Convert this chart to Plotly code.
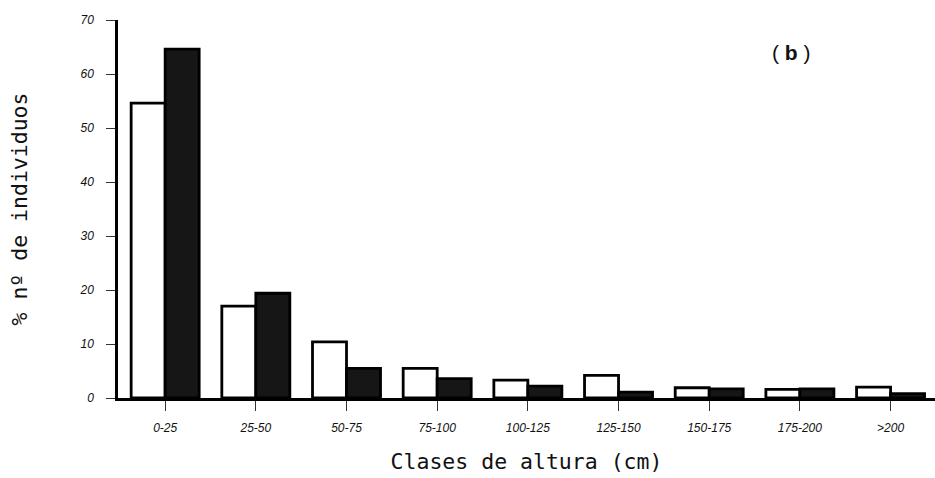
import plotly.graph_objects as go

categories = ["0-25", "25-50", "50-75", "75-100", "100-125", "125-150", "150-175", "175-200", ">200"]
serie_blanca = [54.6, 17.0, 10.4, 5.5, 3.3, 4.2, 1.9, 1.6, 2.0]
serie_negra = [64.6, 19.4, 5.5, 3.6, 2.2, 1.1, 1.7, 1.7, 0.8]
y_ticks = [0, 10, 20, 30, 40, 50, 60, 70]

fig = go.Figure()
fig.add_trace(go.Bar(x=categories, y=serie_blanca, name="A",
                     marker=dict(color="white", line=dict(color="black", width=2.8))))
fig.add_trace(go.Bar(x=categories, y=serie_negra, name="B",
                     marker=dict(color="#161616", line=dict(color="black", width=2.8))))

tickfont = dict(family="Liberation Sans, Arial", size=12, style="italic", color="#111")
monofont = dict(family="DejaVu Sans Mono, monospace", size=21.5, color="#111")

fig.update_layout(
    width=935, height=478,
    margin=dict(l=118, r=0, t=20, b=80),
    paper_bgcolor="white", plot_bgcolor="white",
    barmode="group", bargap=0.25, bargroupgap=0,
    showlegend=False,
    xaxis=dict(
        range=[-0.52, 8.49], showgrid=False, zeroline=False,
        showline=True, linecolor="black", linewidth=2.5,
        ticks="outside", ticklen=10, tickwidth=1, tickcolor="#333",
        tickfont=tickfont, ticklabelstandoff=7,
        title=dict(text="Clases de altura (cm)", font=monofont, standoff=20),
    ),
    yaxis=dict(
        range=[0, 70], tickvals=y_ticks, showgrid=False, zeroline=False,
        showline=True, linecolor="black", linewidth=2.5,
        ticks="outside", ticklen=9, tickwidth=1, tickcolor="#333",
        tickfont=tickfont, ticklabelstandoff=10,
        title=dict(text="% nº de individuos", font=monofont, standoff=46),
    ),
    annotations=[dict(text="( <b>b</b> )", x=0.824, y=0.915, xref="paper", yref="paper",
                      xanchor="center", yanchor="middle",
                      showarrow=False, font=dict(family="Liberation Sans, Arial", size=21, color="#111"))],
)

fig.write_html("out.html")
